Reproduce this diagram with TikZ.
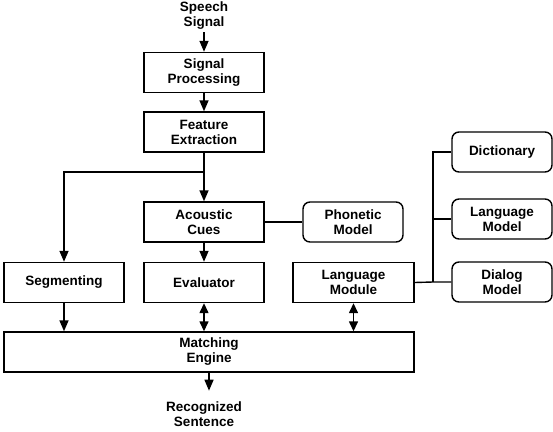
\documentclass[tikz,border=0pt]{standalone}
\usepackage{fontspec}
\setmainfont{Liberation Sans}
\usetikzlibrary{arrows.meta}
\begin{document}
\begin{tikzpicture}[x=1pt,y=-1pt,
  every node/.style={font=\fontsize{13.5}{15}\selectfont\bfseries, align=center, inner sep=0pt},
  box/.style={draw, line width=1.4pt, minimum width=120pt, minimum height=40pt},
  rbox/.style={draw, line width=1.4pt, rounded corners=7pt, minimum width=100pt, minimum height=40pt},
  conn/.style={line width=1.4pt},
  arr/.style={line width=1.4pt, -{Triangle[length=11pt,width=9pt]}},
  darr/.style={line width=1.4pt, {Triangle[length=10pt,width=9pt]}-{Triangle[length=10pt,width=9pt]}}]
\useasboundingbox (0,0) rectangle (553,431);
\node (speech) at (204,16) {Speech\\Signal};
\node[box] (sp) at (204,72.5) {Signal\\Processing};
\node[box] (fe) at (204,132) {Feature\\Extraction};
\node[box] (ac) at (204,222) {Acoustic\\Cues};
\node[box] (ev) at (204,282.5) {Evaluator};
\node[box] (seg) at (64,282.5) {Segmenting};
\node[rbox] (pm) at (353,222) {Phonetic\\Model};
\node[box, minimum width=121pt] (lm) at (353.5,282.5) {Language\\Module};
\node[rbox] (dict) at (502,152) {Dictionary};
\node[rbox] (lang) at (502,219) {Language\\Model};
\node[rbox] (dial) at (502,282) {Dialog\\Model};
\node[box, minimum width=410pt] (me) at (209,352) {Matching\\Engine};
\node (recog) at (204,414) {Recognized\\Sentence};
\coordinate (split) at (204,172);
\coordinate (bustop) at (433,152);
\coordinate (busbot) at (433,282);
\draw[arr] (speech.south) ++(0,2) -- (sp.north);
\draw[arr] (sp) -- (fe);
\draw[arr] (fe) -- (ac);
\draw[arr] (split) -| (seg.north);
\draw[arr] (ac) -- (ev);
\draw[conn] (ac.east) -- (pm.west);
\draw[arr] (seg.south) -- (seg.south |- me.north);
\draw[darr] (ev.south) -- (ev.south |- me.north);
\draw[darr] (lm.south) -- (lm.south |- me.north);
\draw[arr] (me.south) -- ++(0,18);
\draw[conn] (lm.east) -- (busbot) -- (dial.west);
\draw[conn] (busbot) -- (bustop) -- (dict.west);
\draw[conn] (bustop |- lang.west) -- (lang.west);
\end{tikzpicture}
\end{document}
